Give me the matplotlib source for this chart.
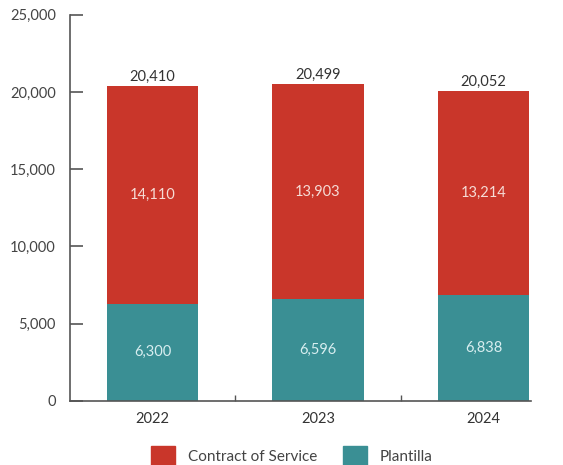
import numpy as np
import matplotlib.pyplot as plt
from matplotlib.patches import Patch

plt.rcParams['font.family'] = ['Lato', 'DejaVu Sans']

years = ['2022', '2023', '2024']
plantilla = [6300, 6596, 6838]
contract = [14110, 13903, 13214]
totals = [20410, 20499, 20052]

red = '#C9362A'
teal = '#3A8F94'
grey = '#555555'

fig = plt.figure(figsize=(5.63, 4.65), dpi=100)
ax = fig.add_axes([0.124, 0.138, 0.82, 0.83])

x = np.arange(len(years))
w = 0.555
ax.bar(x, plantilla, w, color=teal)
ax.bar(x, contract, w, bottom=plantilla, color=red)

for i in range(len(years)):
    ax.text(x[i], plantilla[i] / 2, f'{plantilla[i]:,}', ha='center', va='center',
            color='#D8EEF0', fontsize=10.5)
    ax.text(x[i], plantilla[i] + contract[i] / 2, f'{contract[i]:,}', ha='center',
            va='center', color='#F6DCD6', fontsize=10.5)
    ax.text(x[i], totals[i] + 150, f'{totals[i]:,}', ha='center', va='bottom',
            color='#333333', fontsize=10.5)

ax.set_xlim(-0.5, 2.29)
ax.set_ylim(0, 25000)
ax.set_yticks(range(0, 25001, 5000))
ax.set_yticklabels([f'{v:,}' for v in range(0, 25001, 5000)])
ax.set_xticks(x)
ax.set_xticklabels(years)
ax.set_xticks([0.5, 1.5], minor=True)

for s in ['top', 'right']:
    ax.spines[s].set_visible(False)
for s in ['left', 'bottom']:
    ax.spines[s].set_color(grey)
    ax.spines[s].set_linewidth(1.2)

ax.tick_params(axis='y', direction='in', length=9, width=1.2, color=grey,
               labelcolor='#444444', labelsize=10.5, pad=10)
ax.tick_params(axis='x', which='major', length=0, labelcolor='#333333',
               labelsize=10.5, pad=8)
ax.tick_params(axis='x', which='minor', direction='in', length=4, width=1, color=grey)

handles = [Patch(color=red, label='Contract of Service'),
           Patch(color=teal, label='Plantilla')]
fig.legend(handles=handles, loc='center', bbox_to_anchor=(0.518, 0.02), ncol=2,
           frameon=False, fontsize=11, handlelength=1.57, handleheight=1.6,
           handletextpad=0.85, columnspacing=1.7, labelcolor='#444444',
           borderpad=0)

fig.savefig('out.png', dpi=100)
